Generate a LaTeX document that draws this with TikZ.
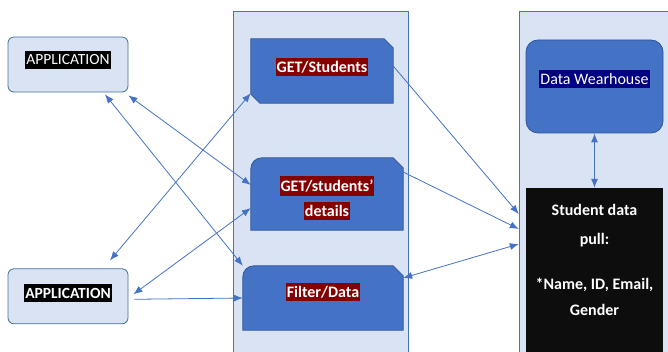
\documentclass[tikz,border=0pt]{standalone}
\usepackage{fontspec}
\setmainfont{Carlito}
\usepackage{tikz}
\usetikzlibrary{positioning}
\usetikzlibrary{arrows.meta}
\definecolor{panelFill}{HTML}{DAE3F3}
\definecolor{panelBorder}{HTML}{4472C4}
\definecolor{appBorder}{HTML}{41719C}
\definecolor{apiBlue}{HTML}{4472C4}
\definecolor{apiBorder}{HTML}{2F5597}
\definecolor{labelRed}{HTML}{850000}
\definecolor{labelNavy}{HTML}{000080}
\definecolor{pullBlack}{HTML}{0D0D0D}
\definecolor{linkBlue}{HTML}{4472C4}

\begin{document}
\begin{tikzpicture}[x=1pt, y=-1pt,
  panel/.style={draw=panelBorder, fill=panelFill, line width=0.8pt},
  appbox/.style={draw=appBorder, fill=panelFill, rounded corners=6pt, line width=0.8pt, minimum width=120pt, minimum height=55pt},
  apibox/.style={inner sep=0pt},
  snipfill/.style={fill=apiBlue, draw=apiBorder, line width=0.8pt},
  redlabel/.style={fill=labelRed, text=white, inner xsep=1pt, inner ysep=3.5pt, font=\fontsize{16}{19}\selectfont\bfseries},
  applabel/.style={fill=black, text=white, inner xsep=1pt, inner ysep=4pt, font=\fontsize{15.5}{19}\selectfont},
  link/.style={draw=linkBlue, line width=0.8pt, >={Latex[length=9pt,width=7pt]}}]
\useasboundingbox (0,0) rectangle (668,352);

% Panels
\node [panel, minimum width=175pt, minimum height=342pt] at (320.5,182.5) (apipanel) {};
\node [panel, minimum width=152pt, minimum height=342pt] at (595,182.5) (dbpanel) {};

% Applications
\node [appbox] at (68,64.5) (app1) {};
\node [applabel] at (68,60) (app1txt) {APPLICATION};
\node [appbox, below=176pt of app1] (app2) {};
\node [applabel, font=\fontsize{15.5}{19}\selectfont\bfseries] at (68,293) (app2txt) {APPLICATION};

% API boxes
\node [apibox, minimum width=142pt, minimum height=64pt] at (322,71) (getstud) {};
\path [snipfill] (getstud.south east) -- ([yshift=-9pt]getstud.north east) -- ([xshift=-9pt]getstud.north east)
  -- (getstud.north west) -- ([yshift=9pt]getstud.south west) -- ([xshift=9pt]getstud.south west) -- cycle;
\node [redlabel] at (322,67) (getstudtxt) {GET/Students};

\node [apibox, minimum width=152pt, minimum height=72pt] at (327,194) (details) {};
\path [snipfill] (details.south west) -- (details.south east) -- ([yshift=-10pt]details.north east)
  -- ([xshift=-10pt]details.north east) -- ([xshift=-30pt]details.north east) [rounded corners=11pt]
  -- (details.north west) -- ([yshift=-30pt]details.north west) [sharp corners] -- cycle;
\node [redlabel] at (327,186) (detailstxt) {GET/students'};
\node [redlabel] at (327,211) (detailstxt2) {details};

\node [apibox, minimum width=160pt, minimum height=64pt] at (323,298) (filter) {};
\path [snipfill] (filter.south west) -- (filter.south east) -- ([yshift=-10pt]filter.north east)
  -- ([xshift=-10pt]filter.north east) -- ([xshift=-30pt]filter.north east) [rounded corners=11pt]
  -- (filter.north west) -- ([yshift=-30pt]filter.north west) [sharp corners] -- cycle;
\node [redlabel] at (323,292) (filtertxt) {Filter/Data};

% Data side
\node [draw=apiBorder, fill=apiBlue, line width=0.8pt, rounded corners=12pt, minimum width=137pt, minimum height=93pt] at (594.5,86.5) (wear) {};
\node [redlabel, fill=labelNavy, font=\fontsize{16}{19}\selectfont] at (594.5,79) (weartxt) {Data Wearhouse};
\node [fill=pullBlack, minimum width=137pt, minimum height=166pt] at (594.5,271) (pull) {};
\node [text=white, align=center, font=\fontsize{16}{19}\selectfont\bfseries] at (594.5,260) (pulltxt)
  {Student data\\[10pt]pull:\\[26pt]*Name, ID, Email,\\[7pt]Gender};

% Connections
\draw [link, <->] ([xshift=37pt,yshift=-2pt]app1.south) -- (node cs:name=filter, anchor=north west);
\draw [link, <->] ([yshift=-3pt]app1.south east) -- ([yshift=9pt]details.west);
\draw [link, <->] ([xshift=42pt,yshift=8pt]app2.north) -- ([yshift=10pt]getstud.south west);
\draw [link, <->] ([xshift=5pt,yshift=2pt]app2.east) -- ([yshift=-14pt]details.west);
\draw [link, ->] ([xshift=6pt,yshift=-3pt]app2.east) -- (node cs:name=filter, anchor=west);
\draw [link, ->] ([yshift=5pt]getstud.east) -- ([xshift=-7pt,yshift=57pt]pull.west);
\draw [link, ->] ([yshift=22pt]details.east) -- ([xshift=-7pt,yshift=42pt]pull.west);
\draw [link, <->] ([yshift=20pt]filter.east) -- ([xshift=-7pt,yshift=27pt]pull.west);
\draw [link, <->] (node cs:name=wear, anchor=south) -- (node cs:name=pull, anchor=north);

\end{tikzpicture}
\end{document}
